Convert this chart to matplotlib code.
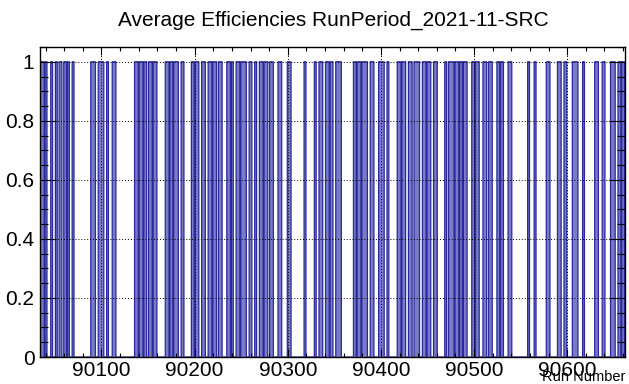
import numpy as np
import matplotlib
matplotlib.use('Agg')
import matplotlib.pyplot as plt
from matplotlib.ticker import MultipleLocator

plt.rcParams['font.family'] = ['Liberation Sans', 'DejaVu Sans']

# run range covered by the histogram
first_run = 90034
last_run = 90661

# blocks of runs (first, last) with efficiency 1, all other runs are 0
good_first = [90035, 90040, 90046, 90051, 90055, 90060, 90064, 90069, 90089, 90097,
              90106, 90112, 90136, 90141, 90146, 90151, 90156, 90169, 90174, 90178,
              90186, 90197, 90201, 90208, 90215, 90220, 90226, 90235, 90240, 90245,
              90250, 90259, 90265, 90270, 90275, 90281, 90290, 90300, 90318, 90329,
              90334, 90341, 90346, 90352, 90371, 90375, 90380, 90389, 90398, 90407,
              90418, 90423, 90430, 90436, 90445, 90450, 90457, 90469, 90473, 90480,
              90485, 90489, 90498, 90502, 90510, 90516, 90525, 90529, 90537, 90558,
              90565, 90578, 90590, 90597, 90606, 90617, 90630, 90638, 90647, 90655,
              90659]
good_last = [90038, 90041, 90047, 90052, 90057, 90062, 90065, 90070, 90093, 90102,
             90107, 90115, 90139, 90144, 90148, 90154, 90159, 90172, 90176, 90182,
             90188, 90199, 90204, 90211, 90218, 90223, 90229, 90238, 90241, 90248,
             90255, 90261, 90266, 90273, 90278, 90284, 90293, 90303, 90319, 90330,
             90337, 90344, 90348, 90357, 90373, 90378, 90385, 90392, 90403, 90408,
             90421, 90426, 90433, 90441, 90448, 90453, 90460, 90470, 90478, 90483,
             90487, 90492, 90500, 90505, 90513, 90519, 90527, 90531, 90540, 90559,
             90566, 90581, 90593, 90599, 90611, 90618, 90633, 90640, 90651, 90657,
             90661]

runs = np.arange(first_run, last_run + 1)
eff = np.zeros(len(runs))
for a, b in zip(good_first, good_last):
    eff[(runs >= a) & (runs <= b)] = 1.0
edges = np.append(runs, last_run + 1) - 0.5

fig = plt.figure(figsize=(6.29, 3.84), dpi=100)
ax = fig.add_axes([0.0636, 0.0703, 0.9300, 0.8073])

# filled histogram with dark outline
ax.stairs(eff, edges, fill=True, facecolor='#7a7ac6', linewidth=0, zorder=1)
ax.stairs(eff, edges, fill=False, edgecolor='#2a2a9e', linewidth=0.9, zorder=2)

ax.set_xlim(first_run, last_run + 1)
ax.set_ylim(0, 1.05)

ax.xaxis.set_major_locator(MultipleLocator(100))
ax.xaxis.set_minor_locator(MultipleLocator(20))
ax.yaxis.set_minor_locator(MultipleLocator(0.05))
ax.set_yticks([0, 0.2, 0.4, 0.6, 0.8, 1.0])
ax.set_yticklabels(['0', '0.2', '0.4', '0.6', '0.8', '1'])

ax.tick_params(which='both', direction='in', top=True, right=True,
               labelsize=15, colors='black', width=0.8)
ax.tick_params(axis='x', which='major', length=6, pad=3)
ax.tick_params(axis='x', which='minor', length=3)
ax.tick_params(axis='y', which='major', length=11.5, pad=4)
ax.tick_params(axis='y', which='minor', length=6)

ax.grid(True, which='major', color='black', linestyle=(0, (1, 2)),
        linewidth=0.7, zorder=3)
ax.set_axisbelow(False)
for sp in ax.spines.values():
    sp.set_linewidth(1.0)
    sp.set_zorder(4)

ax.set_xlabel('Run Number', fontsize=10.5, loc='right', labelpad=-7)
fig.suptitle('Average Efficiencies RunPeriod_2021-11-SRC', fontsize=15,
             x=0.53, y=0.972, va='top')

fig.savefig('out.png', dpi=100)
